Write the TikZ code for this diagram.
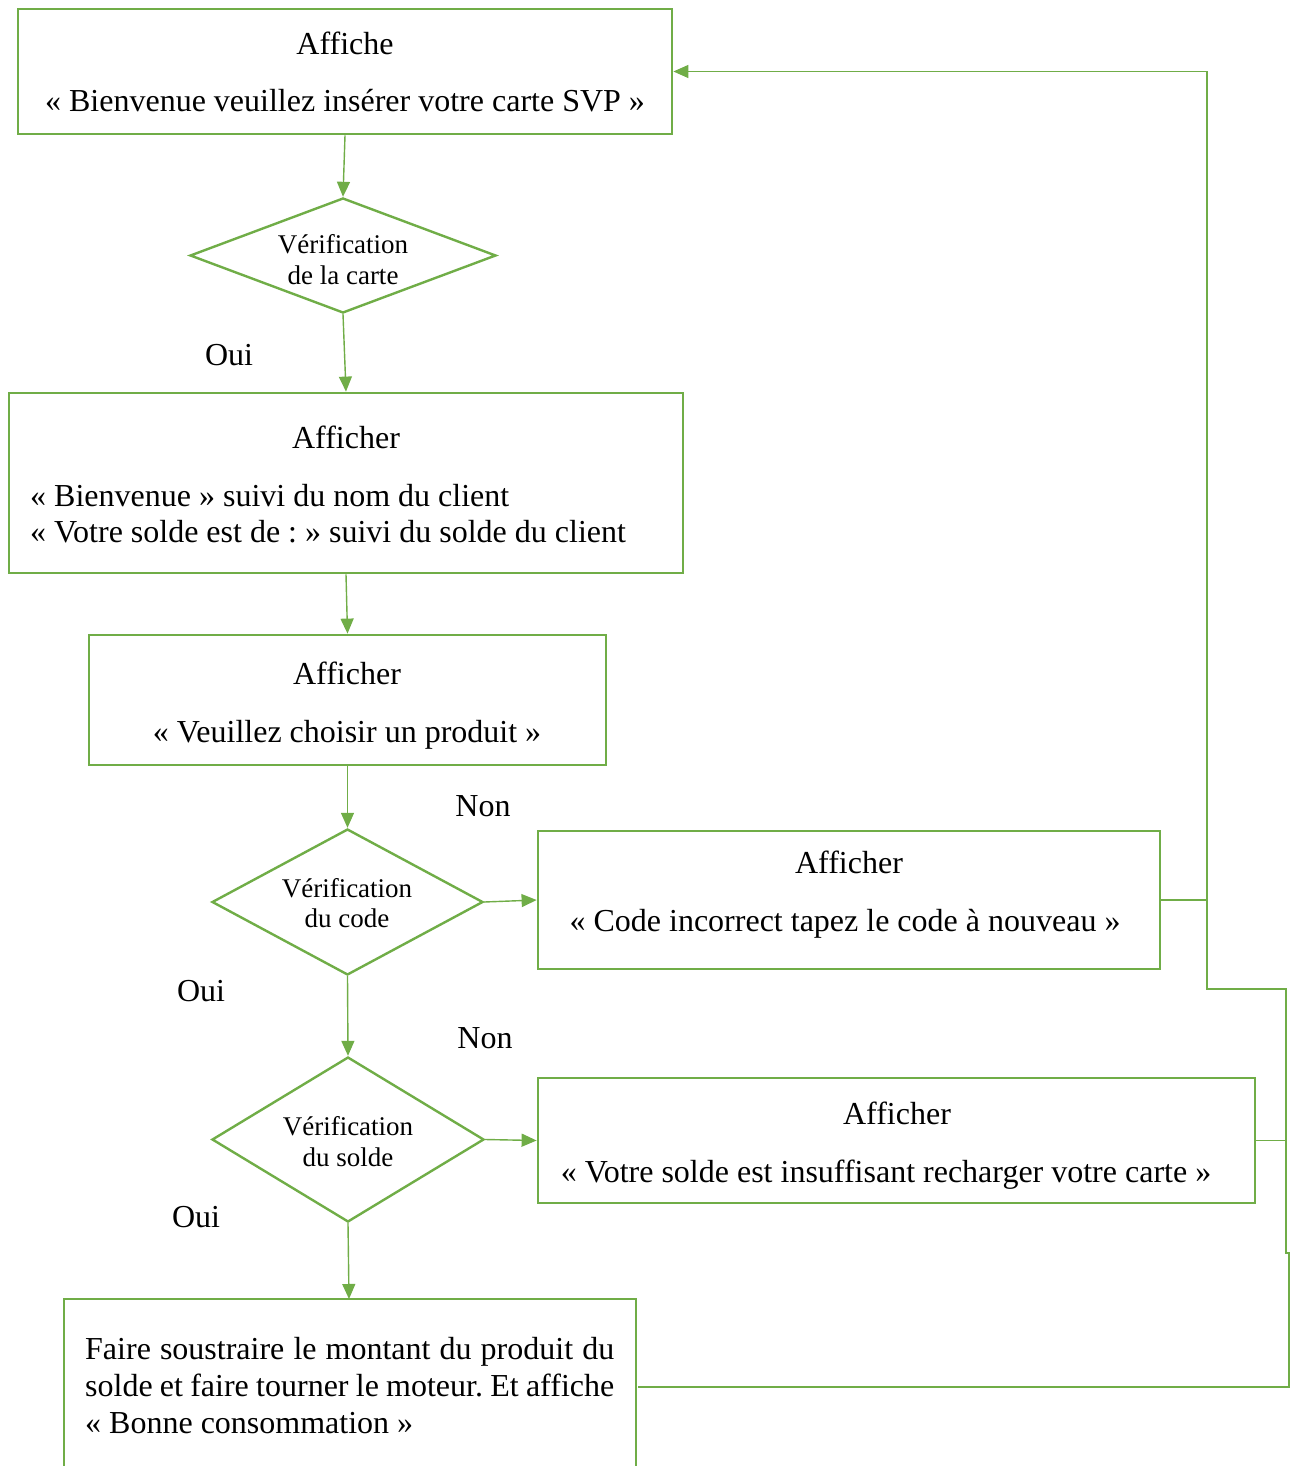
\documentclass[tikz,border=0pt]{standalone}
\usepackage{fontspec}
\setmainfont{Liberation Serif}
\usetikzlibrary{arrows.meta,shapes.geometric}
\definecolor{lgreen}{HTML}{70AD47}
\frenchspacing
\begin{document}
\begin{tikzpicture}[x=1pt,y=-1pt,
  boxst/.style={draw=lgreen,line width=2.8pt,rectangle,inner sep=0pt},
  diast/.style={draw=lgreen,line width=2.4pt,diamond,inner sep=0pt},
  txt/.style={anchor=base,inner sep=0pt,font=\fontsize{32}{37}\selectfont},
  ltxt/.style={anchor=base west,inner sep=0pt,font=\fontsize{32}{37}\selectfont},
  dtxt/.style={anchor=base,inner sep=0pt,font=\fontsize{27}{31}\selectfont},
  conn/.style={draw=lgreen,line width=1.4pt},
  arr/.style={conn,-{Triangle[length=15pt,width=13pt]}}]
\useasboundingbox (0,0) rectangle (1295,1466);
% Box 1
\node[boxst,minimum width=654pt,minimum height=125pt] (b1) at (345,71.5) {};
\node[txt] (b1a) at (345,55) {Affiche};
\node[txt] (b1b) at (345,112) {« Bienvenue veuillez insérer votre carte SVP »};
% Diamond 1
\node[diast,minimum width=306pt,minimum height=115pt] (d1) at (343,255.5) {};
\node[dtxt] (d1a) at (343,253) {Vérification};
\node[dtxt] (d1b) at (343,284) {de la carte};
\node[txt] (oui1) at (229,365) {Oui};
% Box 2
\node[boxst,minimum width=674pt,minimum height=180pt] (b2) at (346,483) {};
\node[txt] (b2a) at (346,448) {Afficher};
\node[ltxt] (b2b) at (30,506) {« Bienvenue » suivi du nom du client};
\node[ltxt] (b2c) at (30,542) {« Votre solde est de : » suivi du solde du client};
% Box 3
\node[boxst,minimum width=517pt,minimum height=130pt] (b3) at (347.5,700) {};
\node[txt] (b3a) at (347,684) {Afficher};
\node[txt] (b3b) at (347,742) {« Veuillez choisir un produit »};
% Diamond 2
\node[diast,minimum width=271pt,minimum height=146pt] (d2) at (347.5,902) {};
\node[dtxt] (d2a) at (347,897) {Vérification};
\node[dtxt] (d2b) at (347,927) {du code};
\node[txt] (non1) at (483,816) {Non};
\node[txt] (oui2) at (201,1001) {Oui};
% Box 4
\node[boxst,minimum width=622pt,minimum height=138pt] (b4) at (849,900) {};
\node[txt] (b4a) at (849,873) {Afficher};
\node[txt] (b4b) at (845,931) {« Code incorrect tapez le code à nouveau »};
% Diamond 3
\node[diast,minimum width=272pt,minimum height=165pt] (d3) at (348,1139.5) {};
\node[dtxt] (d3a) at (348,1135) {Vérification};
\node[dtxt] (d3b) at (348,1166) {du solde};
\node[txt] (non2) at (485,1048) {Non};
\node[txt] (oui3) at (196,1227) {Oui};
% Box 5
\node[boxst,minimum width=717pt,minimum height=125pt] (b5) at (896.5,1140.5) {};
\node[txt] (b5a) at (897,1124) {Afficher};
\node[txt] (b5b) at (886,1182) {« Votre solde est insuffisant recharger votre carte »};
% Box 6 (cut off at the bottom)
\coordinate (b6tl) at (64,1299);
\coordinate (b6tr) at (636,1299);
\coordinate (b6top) at (349,1299);
\coordinate (b6e) at (638,1387);
\draw[draw=lgreen,line width=2.8pt] (64,1470) -- (b6tl) -- (b6tr) -- (636,1470);
\node[ltxt] (b6a) at (85,1359) {\makebox[529pt][s]{Faire soustraire le montant du produit du}};
\node[ltxt] (b6b) at (85,1396) {\makebox[529pt][s]{solde et faire tourner le moteur. Et affiche}};
\node[ltxt] (b6c) at (85,1433) {« Bonne consommation »};
% Connectors
\draw[arr] (b1.south) -- (d1.north);
\draw[arr] (d1.south) -- (b2.north);
\draw[arr] (b2.south) -- (b3.north);
\draw[arr] (b3.south) -- (d2.north);
\draw[arr] (d2.east) -- (b4.west);
\draw[arr] (d2.south) -- (d3.north);
\draw[arr] (d3.east) -- (b5.west);
\draw[arr] (d3.south) -- (b6top);
\draw[arr] (b6e) -- (1289,1387) -- (1289,1253) -- (1286,1253) -- (1286,989) -- (1207,989) -- (1207,71.5) -- (b1.east);
\draw[conn] (b4.east) -- (1207,900);
\draw[conn] (b5.east) -- (1286,1140.5);
\end{tikzpicture}
\end{document}
